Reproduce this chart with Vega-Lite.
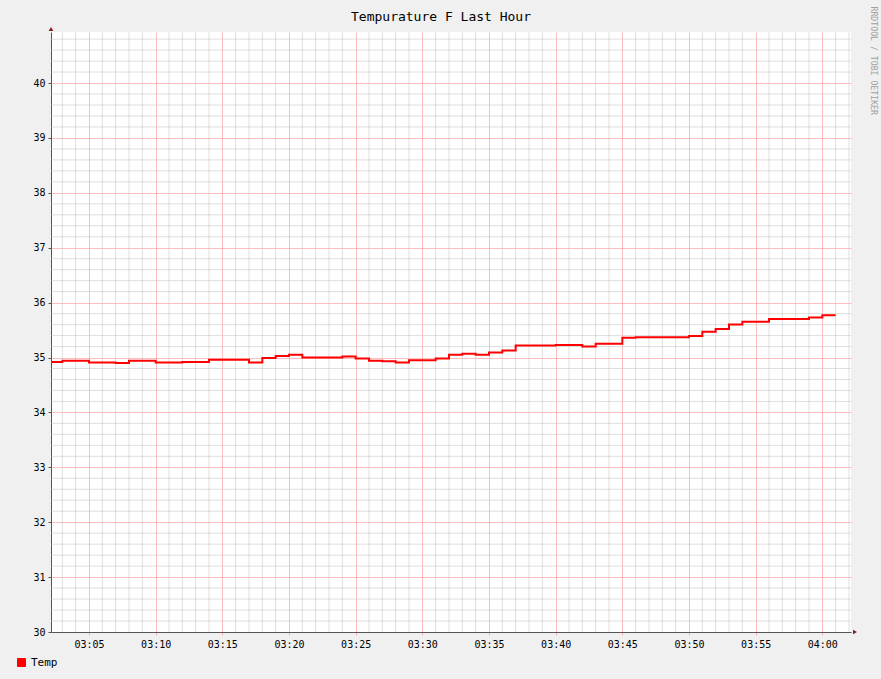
{
  "$schema": "https://vega.github.io/schema/vega-lite/v6.json",
  "width": 800,
  "height": 600,
  "autosize": {"type": "none"},
  "padding": {"left": 51, "top": 32, "right": 30, "bottom": 47},
  "background": "#f0f0f0",
  "config": {"view": {"fill": "#ffffff", "stroke": null}},
  "datasets": {
    "temps": [
      {"time": "2024-01-01T03:02:00", "temp": 34.92, "series": "Temp"},
      {"time": "2024-01-01T03:03:00", "temp": 34.94, "series": "Temp"},
      {"time": "2024-01-01T03:04:00", "temp": 34.94, "series": "Temp"},
      {"time": "2024-01-01T03:05:00", "temp": 34.91, "series": "Temp"},
      {"time": "2024-01-01T03:06:00", "temp": 34.91, "series": "Temp"},
      {"time": "2024-01-01T03:07:00", "temp": 34.90, "series": "Temp"},
      {"time": "2024-01-01T03:08:00", "temp": 34.94, "series": "Temp"},
      {"time": "2024-01-01T03:09:00", "temp": 34.94, "series": "Temp"},
      {"time": "2024-01-01T03:10:00", "temp": 34.91, "series": "Temp"},
      {"time": "2024-01-01T03:11:00", "temp": 34.91, "series": "Temp"},
      {"time": "2024-01-01T03:12:00", "temp": 34.92, "series": "Temp"},
      {"time": "2024-01-01T03:13:00", "temp": 34.92, "series": "Temp"},
      {"time": "2024-01-01T03:14:00", "temp": 34.96, "series": "Temp"},
      {"time": "2024-01-01T03:15:00", "temp": 34.96, "series": "Temp"},
      {"time": "2024-01-01T03:16:00", "temp": 34.96, "series": "Temp"},
      {"time": "2024-01-01T03:17:00", "temp": 34.91, "series": "Temp"},
      {"time": "2024-01-01T03:18:00", "temp": 34.99, "series": "Temp"},
      {"time": "2024-01-01T03:19:00", "temp": 35.03, "series": "Temp"},
      {"time": "2024-01-01T03:20:00", "temp": 35.05, "series": "Temp"},
      {"time": "2024-01-01T03:21:00", "temp": 35.00, "series": "Temp"},
      {"time": "2024-01-01T03:22:00", "temp": 35.00, "series": "Temp"},
      {"time": "2024-01-01T03:23:00", "temp": 35.00, "series": "Temp"},
      {"time": "2024-01-01T03:24:00", "temp": 35.02, "series": "Temp"},
      {"time": "2024-01-01T03:25:00", "temp": 34.98, "series": "Temp"},
      {"time": "2024-01-01T03:26:00", "temp": 34.94, "series": "Temp"},
      {"time": "2024-01-01T03:27:00", "temp": 34.93, "series": "Temp"},
      {"time": "2024-01-01T03:28:00", "temp": 34.91, "series": "Temp"},
      {"time": "2024-01-01T03:29:00", "temp": 34.95, "series": "Temp"},
      {"time": "2024-01-01T03:30:00", "temp": 34.95, "series": "Temp"},
      {"time": "2024-01-01T03:31:00", "temp": 34.98, "series": "Temp"},
      {"time": "2024-01-01T03:32:00", "temp": 35.05, "series": "Temp"},
      {"time": "2024-01-01T03:33:00", "temp": 35.07, "series": "Temp"},
      {"time": "2024-01-01T03:34:00", "temp": 35.05, "series": "Temp"},
      {"time": "2024-01-01T03:35:00", "temp": 35.09, "series": "Temp"},
      {"time": "2024-01-01T03:36:00", "temp": 35.13, "series": "Temp"},
      {"time": "2024-01-01T03:37:00", "temp": 35.22, "series": "Temp"},
      {"time": "2024-01-01T03:38:00", "temp": 35.22, "series": "Temp"},
      {"time": "2024-01-01T03:39:00", "temp": 35.22, "series": "Temp"},
      {"time": "2024-01-01T03:40:00", "temp": 35.23, "series": "Temp"},
      {"time": "2024-01-01T03:41:00", "temp": 35.23, "series": "Temp"},
      {"time": "2024-01-01T03:42:00", "temp": 35.20, "series": "Temp"},
      {"time": "2024-01-01T03:43:00", "temp": 35.25, "series": "Temp"},
      {"time": "2024-01-01T03:44:00", "temp": 35.25, "series": "Temp"},
      {"time": "2024-01-01T03:45:00", "temp": 35.36, "series": "Temp"},
      {"time": "2024-01-01T03:46:00", "temp": 35.37, "series": "Temp"},
      {"time": "2024-01-01T03:47:00", "temp": 35.37, "series": "Temp"},
      {"time": "2024-01-01T03:48:00", "temp": 35.37, "series": "Temp"},
      {"time": "2024-01-01T03:49:00", "temp": 35.37, "series": "Temp"},
      {"time": "2024-01-01T03:50:00", "temp": 35.39, "series": "Temp"},
      {"time": "2024-01-01T03:51:00", "temp": 35.47, "series": "Temp"},
      {"time": "2024-01-01T03:52:00", "temp": 35.52, "series": "Temp"},
      {"time": "2024-01-01T03:53:00", "temp": 35.60, "series": "Temp"},
      {"time": "2024-01-01T03:54:00", "temp": 35.65, "series": "Temp"},
      {"time": "2024-01-01T03:55:00", "temp": 35.65, "series": "Temp"},
      {"time": "2024-01-01T03:56:00", "temp": 35.70, "series": "Temp"},
      {"time": "2024-01-01T03:57:00", "temp": 35.70, "series": "Temp"},
      {"time": "2024-01-01T03:58:00", "temp": 35.70, "series": "Temp"},
      {"time": "2024-01-01T03:59:00", "temp": 35.73, "series": "Temp"},
      {"time": "2024-01-01T04:00:00", "temp": 35.77, "series": "Temp"},
      {"time": "2024-01-01T04:01:00", "temp": 35.77, "series": "Temp"}
    ],
    "minorTimes": [
      {"time": "2024-01-01T03:03:00"}, {"time": "2024-01-01T03:04:00"},
      {"time": "2024-01-01T03:06:00"}, {"time": "2024-01-01T03:07:00"}, {"time": "2024-01-01T03:08:00"}, {"time": "2024-01-01T03:09:00"},
      {"time": "2024-01-01T03:11:00"}, {"time": "2024-01-01T03:12:00"}, {"time": "2024-01-01T03:13:00"}, {"time": "2024-01-01T03:14:00"},
      {"time": "2024-01-01T03:16:00"}, {"time": "2024-01-01T03:17:00"}, {"time": "2024-01-01T03:18:00"}, {"time": "2024-01-01T03:19:00"},
      {"time": "2024-01-01T03:21:00"}, {"time": "2024-01-01T03:22:00"}, {"time": "2024-01-01T03:23:00"}, {"time": "2024-01-01T03:24:00"},
      {"time": "2024-01-01T03:26:00"}, {"time": "2024-01-01T03:27:00"}, {"time": "2024-01-01T03:28:00"}, {"time": "2024-01-01T03:29:00"},
      {"time": "2024-01-01T03:31:00"}, {"time": "2024-01-01T03:32:00"}, {"time": "2024-01-01T03:33:00"}, {"time": "2024-01-01T03:34:00"},
      {"time": "2024-01-01T03:36:00"}, {"time": "2024-01-01T03:37:00"}, {"time": "2024-01-01T03:38:00"}, {"time": "2024-01-01T03:39:00"},
      {"time": "2024-01-01T03:41:00"}, {"time": "2024-01-01T03:42:00"}, {"time": "2024-01-01T03:43:00"}, {"time": "2024-01-01T03:44:00"},
      {"time": "2024-01-01T03:46:00"}, {"time": "2024-01-01T03:47:00"}, {"time": "2024-01-01T03:48:00"}, {"time": "2024-01-01T03:49:00"},
      {"time": "2024-01-01T03:51:00"}, {"time": "2024-01-01T03:52:00"}, {"time": "2024-01-01T03:53:00"}, {"time": "2024-01-01T03:54:00"},
      {"time": "2024-01-01T03:56:00"}, {"time": "2024-01-01T03:57:00"}, {"time": "2024-01-01T03:58:00"}, {"time": "2024-01-01T03:59:00"},
      {"time": "2024-01-01T04:01:00"}, {"time": "2024-01-01T04:02:00"}
    ],
    "minorTemps": [
      {"temp": 30.2}, {"temp": 30.4}, {"temp": 30.6}, {"temp": 30.8},
      {"temp": 31.2}, {"temp": 31.4}, {"temp": 31.6}, {"temp": 31.8},
      {"temp": 32.2}, {"temp": 32.4}, {"temp": 32.6}, {"temp": 32.8},
      {"temp": 33.2}, {"temp": 33.4}, {"temp": 33.6}, {"temp": 33.8},
      {"temp": 34.2}, {"temp": 34.4}, {"temp": 34.6}, {"temp": 34.8},
      {"temp": 35.2}, {"temp": 35.4}, {"temp": 35.6}, {"temp": 35.8},
      {"temp": 36.2}, {"temp": 36.4}, {"temp": 36.6}, {"temp": 36.8},
      {"temp": 37.2}, {"temp": 37.4}, {"temp": 37.6}, {"temp": 37.8},
      {"temp": 38.2}, {"temp": 38.4}, {"temp": 38.6}, {"temp": 38.8},
      {"temp": 39.2}, {"temp": 39.4}, {"temp": 39.6}, {"temp": 39.8},
      {"temp": 40.2}, {"temp": 40.4}, {"temp": 40.6}, {"temp": 40.8}
    ]
  },
  "layer": [
    {
      "data": {"name": "minorTimes"},
      "mark": {"type": "rule", "color": "#c0c0c0", "opacity": 0.5, "strokeWidth": 1},
      "encoding": {
        "x": {"field": "time", "type": "temporal"}
      }
    },
    {
      "data": {"name": "minorTemps"},
      "mark": {"type": "rule", "color": "#c0c0c0", "opacity": 0.5, "strokeWidth": 1},
      "encoding": {
        "y": {"field": "temp", "type": "quantitative"}
      }
    },
    {
      "data": {"name": "temps"},
      "mark": {"type": "line", "interpolate": "step-after", "clip": true, "strokeWidth": 2},
      "encoding": {
        "x": {
          "field": "time", "type": "temporal",
          "scale": {"domain": [
            {"year": 2024, "month": 1, "date": 1, "hours": 3, "minutes": 2, "seconds": 9},
            {"year": 2024, "month": 1, "date": 1, "hours": 4, "minutes": 2, "seconds": 9}
          ]},
          "axis": {
            "format": "%H:%M",
            "labelFont": "DejaVu Sans Mono",
            "labelFontSize": 10,
            "labelColor": "#000000",
            "labelPadding": 4,
            "grid": true,
            "gridColor": "#ff8080",
            "gridOpacity": 0.5,
            "tickColor": "#ff8080",
            "tickOpacity": 0.6,
            "tickSize": 3,
            "domainColor": "#555555",
            "title": "RRDTOOL / TOBI OETIKER",
            "titleAngle": 90,
            "titleX": 821,
            "titleY": -626,
            "titleAlign": "left",
            "titleBaseline": "middle",
            "titleFont": "DejaVu Sans Mono",
            "titleFontSize": 8.2,
            "titleFontWeight": "normal",
            "titleColor": "#a0a0a0"
          }
        },
        "y": {
          "field": "temp", "type": "quantitative",
          "scale": {"domain": [30, 40.93], "zero": false, "nice": false},
          "axis": {
            "format": "d",
            "labelFont": "DejaVu Sans Mono",
            "labelFontSize": 10,
            "labelColor": "#000000",
            "labelPadding": 3,
            "grid": true,
            "gridColor": "#ff8080",
            "gridOpacity": 0.5,
            "tickColor": "#555555",
            "tickSize": 3,
            "domainColor": "#555555",
            "title": "Tempurature F Last Hour",
            "titleAngle": 0,
            "titleX": 389.5,
            "titleY": -12,
            "titleAlign": "center",
            "titleBaseline": "alphabetic",
            "titleFont": "DejaVu Sans Mono",
            "titleFontSize": 13,
            "titleFontWeight": "normal",
            "titleColor": "#000000"
          }
        },
        "color": {
          "field": "series", "type": "nominal",
          "scale": {"range": ["#ff0000"]},
          "legend": {
            "orient": "none",
            "legendX": -35,
            "legendY": 625,
            "title": null,
            "padding": 0,
            "symbolType": "square",
            "symbolSize": 64,
            "symbolFillColor": "#ff0000",
            "symbolStrokeColor": "#000000",
            "symbolStrokeWidth": 1,
            "labelFont": "DejaVu Sans Mono",
            "labelFontSize": 11,
            "labelColor": "#000000",
            "labelOffset": 4
          }
        }
      }
    },
    {
      "data": {"values": [{}]},
      "mark": {"type": "point", "shape": "triangle-up", "filled": true, "size": 22, "color": "#8b1a1a", "opacity": 1, "yOffset": -3},
      "encoding": {
        "x": {"datum": {"year": 2024, "month": 1, "date": 1, "hours": 3, "minutes": 2, "seconds": 9}, "type": "temporal"},
        "y": {"datum": 40.93, "type": "quantitative"}
      }
    },
    {
      "data": {"values": [{}]},
      "mark": {"type": "point", "shape": "triangle-right", "filled": true, "size": 22, "color": "#8b1a1a", "opacity": 1, "xOffset": 4},
      "encoding": {
        "x": {"datum": {"year": 2024, "month": 1, "date": 1, "hours": 4, "minutes": 2, "seconds": 9}, "type": "temporal"},
        "y": {"datum": 30, "type": "quantitative"}
      }
    }
  ]
}
